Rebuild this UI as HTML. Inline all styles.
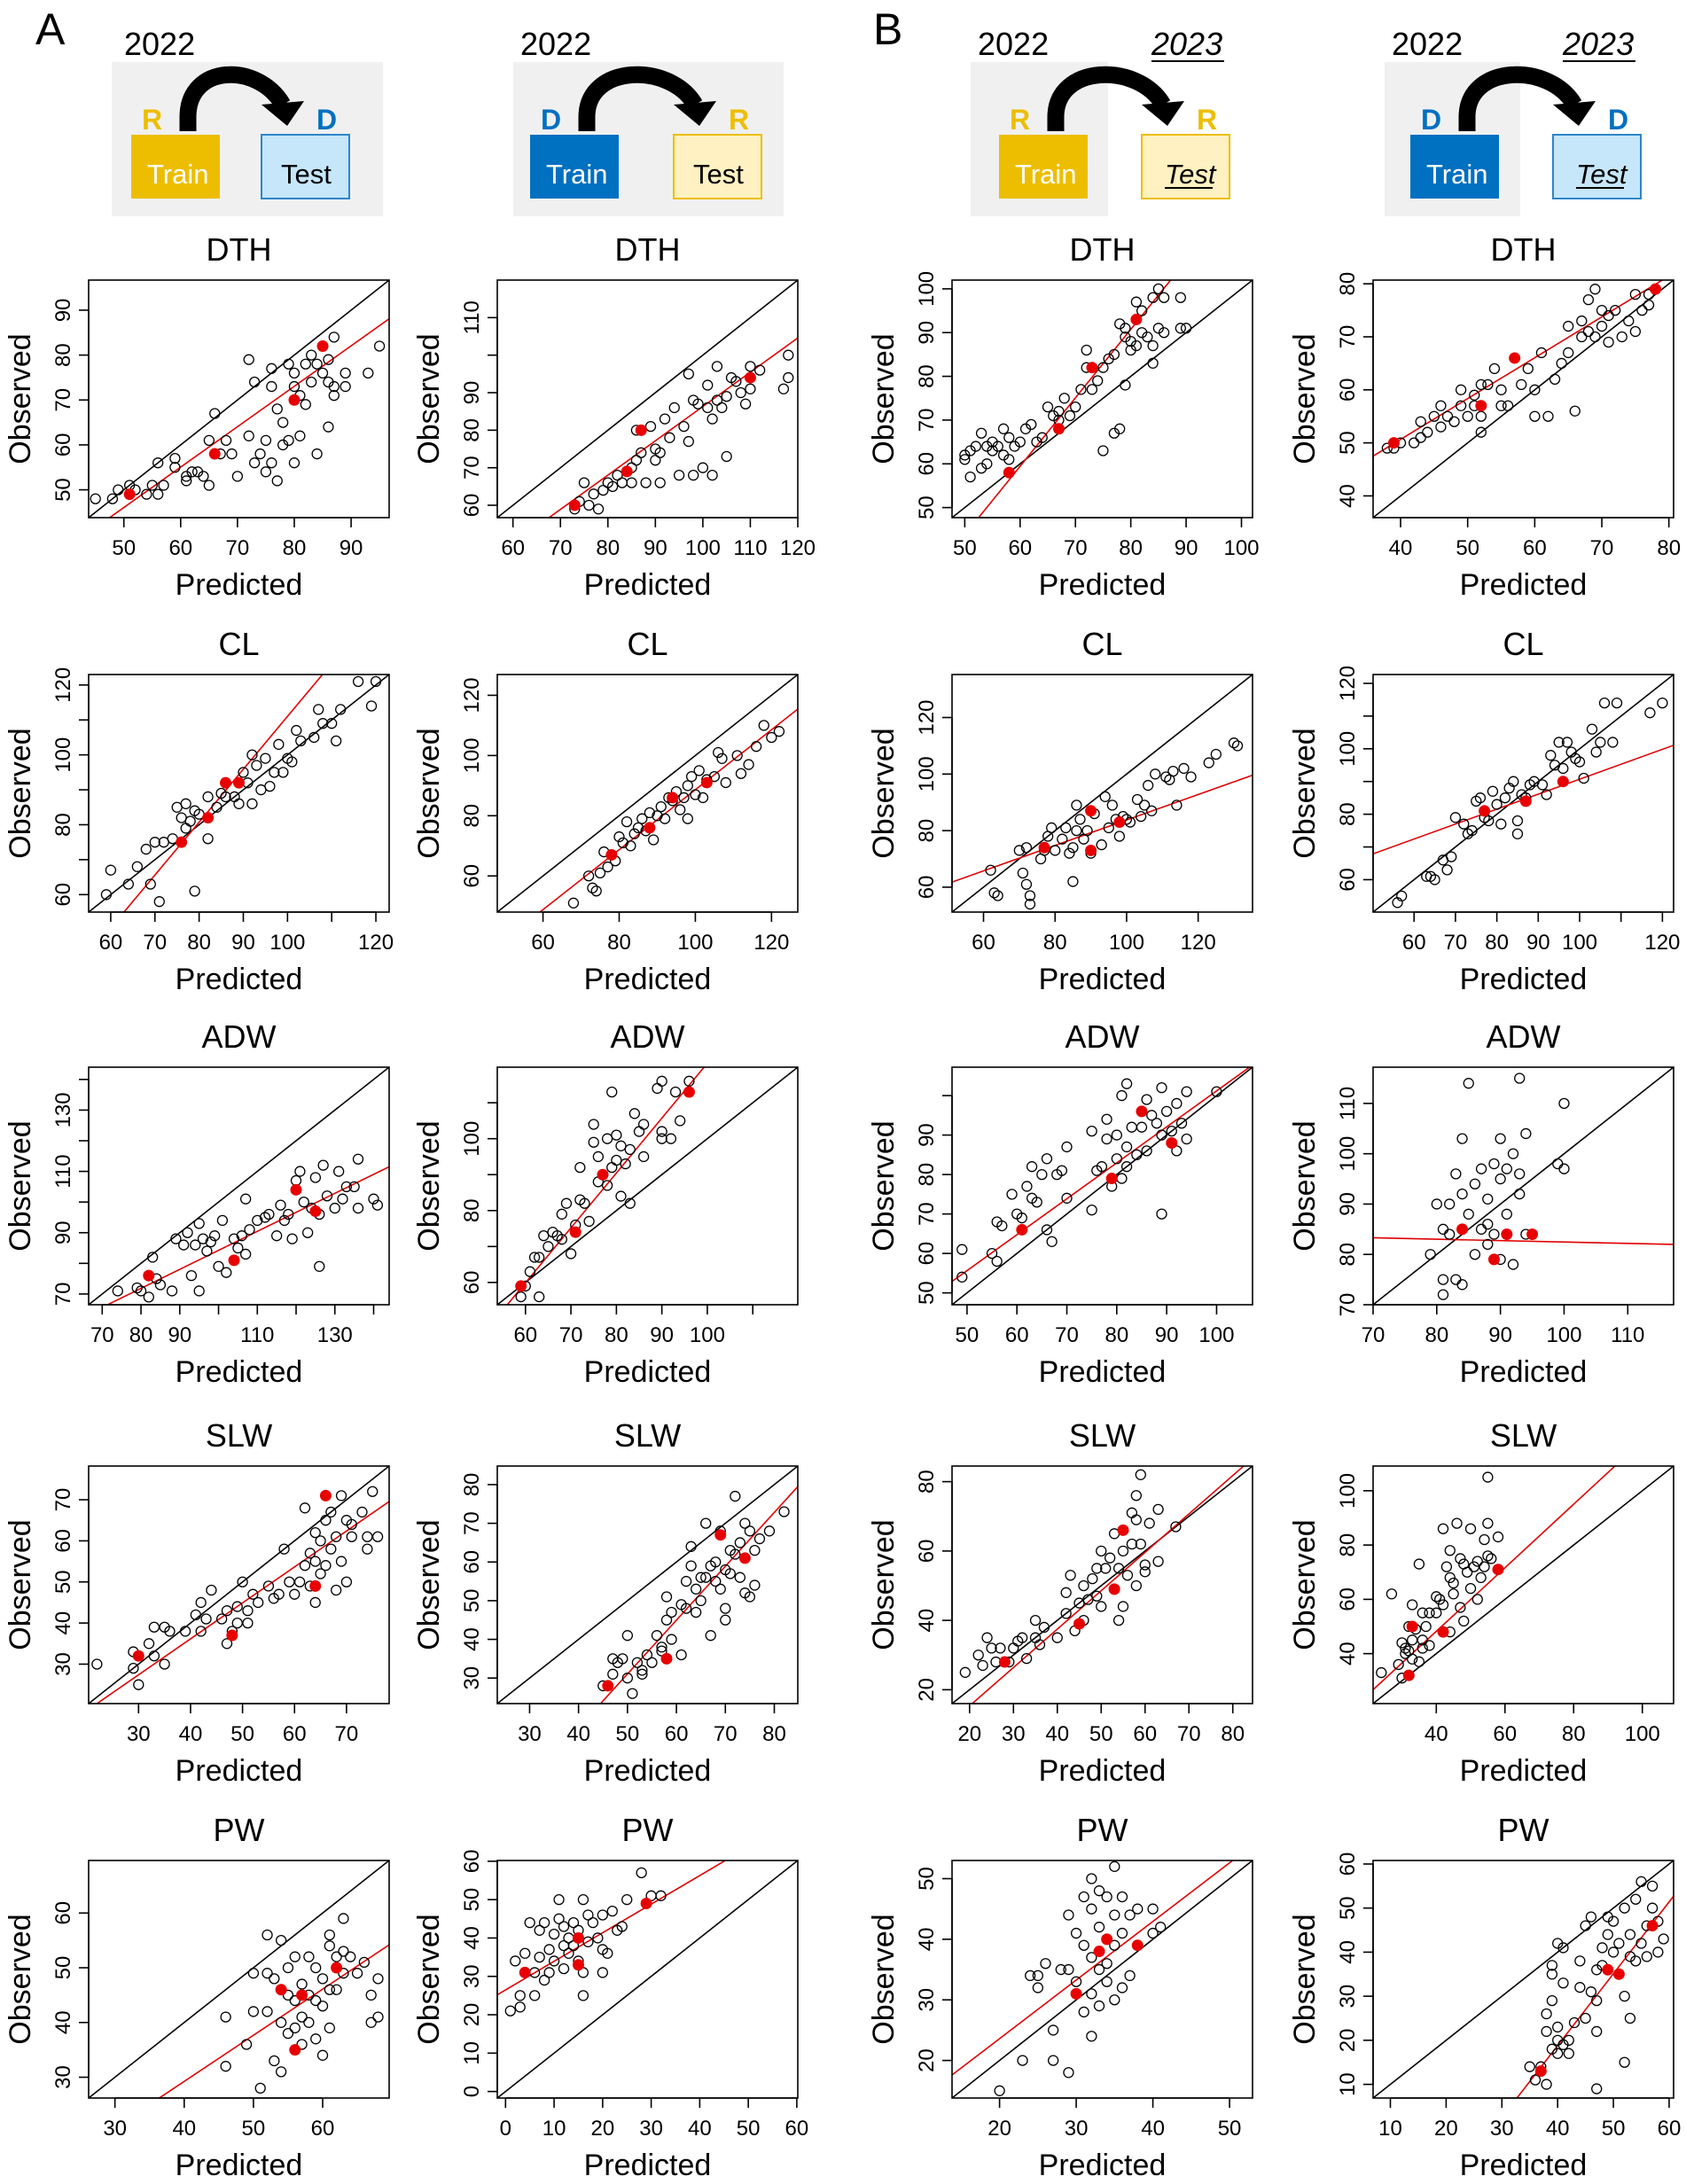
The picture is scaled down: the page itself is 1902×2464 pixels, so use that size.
<!DOCTYPE html>
<html><head><meta charset="utf-8"><style>
html,body{margin:0;padding:0;background:#fff}
svg{display:block}
text{font-family:"Liberation Sans",sans-serif}
</style></head><body>
<svg id="fig" xmlns="http://www.w3.org/2000/svg" width="1902" height="2464" viewBox="0 0 1902 2464">
<rect width="1902" height="2464" fill="#fff"/>
<text x="40" y="50" font-size="50">A</text>
<text x="985" y="50" font-size="50">B</text>
<g id="headers"></g>
<g id="plots"></g>
</svg>
<script>
// ---- data (square lims [lo,hi]; fits [x0,y0,slope]) ----
const colLeft=[100,561,1074,1549];
const rowTop=[316,761,1204,1654,2099];
const titles=["DTH","CL","ADW","SLW","PW"];

const dthA1=[45,48,48,48,49,50,51,51,52,50,54,49,55,51,56,49,56,56,57,51,59,57,59,55,61,53,61,52,62,54,63,54,64,53,65,51,65,61,66,67,67,58,68,61,69,58,70,53,72,62,72,79,73,74,73,56,74,58,75,61,75,54,76,77,76,73,76,56,77,52,77,68,78,65,78,60,79,78,79,61,80,76,80,56,80,73,81,62,81,71,82,69,82,78,83,74,83,80,84,78,84,58,85,76,86,64,86,74,86,79,87,73,87,84,87,71,89,73,89,76,93,76,95,82];
const dthA1Red=[51,49,66,58,80,70,85,82];
const dthA2=[73,59,74,61,75,66,76,60,77,63,78,59,79,64,80,66,81,65,82,68,83,66,84,69,85,70,85,66,86,72,86,80,87,74,88,66,89,81,90,72,90,75,91,74,91,66,92,83,93,78,94,86,95,68,96,81,97,95,97,77,98,68,98,88,99,87,100,70,101,86,101,92,102,68,102,83,103,88,103,97,104,86,105,89,105,73,106,94,107,93,108,90,109,87,110,97,110,91,112,96,117,91,118,94,118,100];
const dthA2Red=[73,60,84,69,87,80,110,94];
const dthB1=[50,61,50,62,51,57,51,63,52,64,53,67,53,59,54,64,54,60,55,65,55,63,56,64,57,68,57,62,58,61,58,66,59,64,60,65,61,68,62,69,63,65,64,66,65,73,66,71,67,72,67,70,68,75,69,71,70,73,71,77,72,86,72,82,73,77,74,79,75,82,75,63,76,84,77,67,77,85,78,92,78,68,79,89,79,91,79,78,80,86,80,88,81,87,81,97,82,90,82,95,83,89,84,87,84,98,84,83,85,91,85,100,86,90,86,98,89,98,89,91,90,91];
const dthB1Red=[58,58,67,68,73,82,81,93];
const dthB2=[38,49,39,49,40,50,42,50,43,51,43,54,44,52,45,55,46,53,46,57,47,55,48,54,49,57,49,60,50,55,51,59,51,57,52,61,52,55,52,52,53,61,54,64,55,60,55,57,56,57,58,61,59,64,60,55,60,60,61,67,62,55,63,62,64,65,65,72,65,67,66,56,67,70,67,73,68,77,68,71,69,70,69,79,70,72,70,75,71,69,71,74,72,75,73,70,74,73,75,71,75,78,76,75,77,78,77,76,78,79];
const dthB2Red=[39,50,52,57,57,66,78,79];

const clA1=[59,60,60,67,64,63,66,68,68,73,69,63,70,75,71,58,72,75,74,76,75,85,76,82,77,79,77,86,78,81,79,61,79,84,80,83,82,76,82,88,84,85,85,89,86,88,88,88,89,86,90,95,91,92,92,100,92,86,93,97,94,90,95,99,96,91,97,95,98,103,99,95,100,99,101,98,102,107,103,104,106,105,107,113,108,109,110,109,111,104,112,113,116,121,119,114,120,121];
const clA1Red=[76,75,82,82,86,92,89,92];
const clA2=[68,51,72,60,73,56,74,55,75,61,76,68,77,63,78,67,79,65,80,73,81,71,82,78,83,70,84,74,85,76,86,79,87,75,88,81,89,72,90,80,91,83,92,79,93,86,94,85,95,88,96,82,97,86,98,90,98,79,99,93,100,87,101,95,102,86,103,92,105,93,106,101,107,99,108,91,111,100,112,94,114,97,116,103,118,110,120,106,122,108];
const clA2Red=[78,67,88,76,94,86,103,91];
const clB1=[62,66,63,58,64,57,70,73,71,65,72,61,72,74,73,54,73,57,76,70,77,73,78,78,79,81,80,73,82,77,83,81,84,72,85,74,85,62,86,80,86,89,87,84,88,77,89,80,90,72,91,86,93,75,94,92,95,81,96,89,97,84,98,78,99,85,100,84,101,83,103,91,104,85,105,89,106,96,107,87,108,100,111,99,112,98,113,101,114,89,116,102,118,99,123,104,125,107,130,111,131,110];
const clB1Red=[77,74,90,87,90,73,98,83];
const clB2=[56,53,57,55,63,61,64,61,65,60,67,66,68,63,69,67,70,79,72,77,73,74,74,75,75,84,76,85,77,79,78,78,79,87,80,83,81,77,82,85,83,88,84,90,85,74,85,78,86,86,87,85,88,89,89,90,91,89,92,86,93,98,94,95,95,102,96,94,97,102,98,99,99,97,100,96,101,91,103,106,104,99,105,102,106,114,108,102,109,114,117,111,120,114];
const clB2Red=[77,81,87,84,96,90];

const adwA1=[74,71,79,72,80,71,82,69,83,82,84,75,85,73,88,71,89,88,91,86,92,90,93,76,94,86,95,93,95,71,96,88,97,84,98,87,99,89,100,79,101,94,102,77,104,88,105,85,106,89,107,83,107,101,108,91,110,94,112,95,113,96,115,89,116,99,117,94,118,96,119,88,120,107,121,110,122,100,123,90,124,98,125,108,126,79,126,96,127,112,128,102,130,98,131,110,132,101,133,105,135,105,136,98,136,114,140,101,141,99];
const adwA1Red=[82,76,104,81,120,104,125,97];
const adwA2=[59,56,60,59,61,63,62,67,63,56,63,67,64,73,65,70,66,74,67,73,68,72,68,79,69,82,70,68,71,76,72,92,72,83,73,82,74,77,75,99,75,104,76,95,76,88,77,90,78,87,78,100,79,92,79,113,80,94,80,101,81,84,81,98,82,93,83,97,83,82,84,107,85,102,86,104,86,95,89,114,90,100,90,102,92,100,93,113,94,105,96,116,90,116];
const adwA2Red=[59,59,71,74,77,90,96,113];
const adwB1=[49,61,49,54,55,60,56,58,56,68,57,67,59,75,60,70,61,69,62,77,63,74,63,82,64,73,65,80,66,84,66,66,67,63,68,80,69,81,70,74,70,87,75,71,75,91,76,81,77,82,78,89,78,94,79,77,80,84,80,90,81,79,81,100,82,82,82,87,82,103,83,92,84,85,85,92,85,96,86,99,86,86,87,95,88,93,89,70,89,90,89,102,90,96,91,91,92,98,92,86,93,93,94,101,94,89,100,101];
const adwB1Red=[61,66,79,79,85,96,91,88];
const adwB2=[79,80,80,90,81,75,81,72,81,85,82,84,82,90,83,75,83,96,84,74,84,103,84,92,85,114,85,88,86,80,86,94,87,85,87,97,88,91,88,86,88,82,89,98,89,84,90,95,90,79,90,103,91,88,91,97,92,100,92,78,93,96,93,92,93,115,94,104,94,84,99,98,100,97,100,110];
const adwB2Red=[84,85,89,79,91,84,95,84];

const slwA1=[22,30,29,29,29,33,30,25,32,35,33,39,33,32,35,39,35,30,36,38,39,38,41,42,42,45,42,38,43,41,44,48,46,41,47,43,47,35,48,38,49,40,49,44,50,50,51,40,51,43,52,47,53,45,55,49,56,46,57,47,58,58,59,50,60,47,61,50,62,54,62,68,63,57,63,49,64,55,64,45,64,62,65,60,65,52,66,65,66,54,67,58,67,67,68,48,68,61,69,55,69,71,70,65,70,50,71,61,71,64,73,67,74,58,74,61,75,72,76,61];
const slwA1Red=[30,32,48,37,64,49,66,71];
const slwA2=[45,28,47,35,47,31,48,34,49,35,50,30,50,41,51,26,52,34,53,32,53,31,54,36,55,34,56,41,57,37,57,38,58,45,58,51,59,47,59,40,61,49,61,36,62,55,62,48,63,64,63,59,64,47,64,53,65,56,65,50,66,70,66,56,67,59,67,41,68,60,68,55,69,53,69,68,70,48,70,45,70,58,71,63,71,57,72,77,72,62,73,56,73,65,74,70,74,52,75,68,75,51,76,54,76,63,77,66,79,68,82,73];
const slwA2Red=[46,28,58,35,69,67,74,61];
const slwB1=[19,25,22,30,23,27,24,35,25,32,26,28,27,32,29,28,30,32,31,34,32,35,33,29,35,40,35,35,36,33,37,38,40,35,42,42,42,48,43,53,44,37,45,45,46,50,46,40,47,46,48,52,49,55,49,47,50,60,50,44,51,55,52,58,53,49,53,65,54,40,54,55,55,44,55,60,56,53,57,71,57,62,58,50,58,76,58,69,59,82,59,62,60,56,60,54,61,68,63,72,63,57,67,67];
const slwB1Red=[28,28,45,39,53,49,55,66];
const slwB2=[24,33,27,62,29,36,30,31,31,40,31,42,32,50,32,41,33,45,33,58,33,38,35,73,35,37,36,55,36,45,37,50,38,43,38,55,40,61,41,60,42,86,43,72,44,68,44,78,44,48,45,62,45,66,46,88,47,57,47,75,48,73,48,52,49,70,50,64,50,86,51,72,52,60,52,74,53,68,54,72,54,82,55,88,55,76,56,75,55,105,58,83,34,49,36,42,40,55,42,58,30,44];
const slwB2Red=[32,32,33,50,42,48,58,71];

const pwA1=[46,32,46,41,49,36,50,49,50,42,51,28,52,49,52,56,52,42,53,48,53,33,54,31,54,55,54,40,55,45,55,50,55,38,56,52,56,44,56,39,57,47,57,41,57,36,58,52,58,45,58,40,59,50,59,44,59,37,60,48,60,34,60,43,61,56,61,46,61,54,61,39,62,52,62,46,63,59,63,49,63,53,64,52,65,49,66,51,67,40,67,45,68,48,68,41];
const pwA1Red=[54,46,56,35,57,45,62,50];
const pwA2=[1,21,2,34,3,22,3,25,4,36,5,44,6,31,6,25,7,35,7,42,8,29,8,44,9,37,9,31,10,41,10,34,11,50,11,45,12,38,12,43,12,32,13,40,13,36,14,44,14,38,15,42,15,34,16,25,16,50,16,31,17,39,17,46,18,44,19,40,20,37,20,31,20,46,21,36,22,47,23,42,24,43,25,50,28,57,30,51,32,51];
const pwA2Red=[4,31,15,40,15,33,29,49];
const pwB1=[20,15,23,20,24,34,25,34,25,32,26,36,27,25,27,20,28,35,29,44,29,35,29,18,30,41,30,33,31,28,31,47,31,39,32,50,32,45,32,37,32,24,32,31,33,42,33,48,33,35,33,29,34,47,34,40,34,36,34,33,35,52,35,44,35,39,35,30,36,47,36,41,36,32,37,44,37,34,38,45,40,41,40,45,41,42];
const pwB1Red=[30,31,33,38,34,40,38,39];
const pwB2=[35,14,36,11,37,14,38,10,38,22,38,26,39,18,39,35,39,37,39,29,40,20,40,23,40,42,40,17,41,19,41,41,41,33,42,17,42,20,43,24,44,32,44,38,45,25,45,46,46,31,46,48,47,22,47,29,47,36,47,9,48,41,48,37,49,48,49,44,50,40,50,47,51,35,51,42,52,30,52,15,52,50,53,44,53,25,53,39,54,52,54,38,55,56,55,42,56,46,57,55,57,50,58,40,58,47,59,43,56,39];
const pwB2Red=[37,13,49,36,51,35,57,46];

const lims=[[43.8,96.7],[56.7,120],[47.7,102],[35.9,80.7],
 [55,123],[48,126.9],[51.2,135.2],[50.1,122.7],
 [66.5,144],[53.8,119.9],[47,107.2],[70,117.2],
 [20.4,78.2],[23.4,84.8],[16,84.5],[21.6,109.1],
 [26.2,69.6],[-1.7,60.2],[13.8,53],[6.9,60.8]];
const fits=[[47.5,43.8,0.9],[67.6,56.7,0.914],[52.5,47.7,1.565],[35.9,47.5,0.77],
 [63,55,1.514],[59.2,48,0.996],[51.2,61.8,0.45],[50.1,67.9,0.457],
 [71.4,66.5,0.62],[56,53.8,1.527],[47,52.9,0.911],[70,83.3,-0.028],
 [22,20.4,0.875],[44.5,23.4,1.392],[20.6,16,1.107],[21.6,26.7,1.17],
 [36.4,26.2,0.843],[-1.7,25.2,0.745],[13.8,17.6,0.967],[32.7,6.9,1.63]];
const xTicks=[[50,60,70,80,90],[60,70,80,90,100,110,120],[50,60,70,80,90,100],[40,50,60,70,80],
 [60,70,80,90,100,110,120],[60,80,100,120],[60,80,100,120],[60,70,80,90,100,110,120],
 [70,80,90,100,110,120,130,140],[60,70,80,90,100,110],[50,60,70,80,90,100],[70,80,90,100,110],
 [30,40,50,60,70],[30,40,50,60,70,80],[20,30,40,50,60,70,80],[40,60,80,100],
 [30,40,50,60],[0,10,20,30,40,50,60],[20,30,40,50],[10,20,30,40,50,60]];
const xHidden=[[],[],[],[],[110],[],[],[110],[100,120,140],[110],[],[],[],[],[],[],[],[],[],[]];
const yTicks=[[50,60,70,80,90],[60,70,80,90,100,110],[50,60,70,80,90,100],[40,50,60,70,80],
 [60,70,80,90,100,110,120],[60,80,100,120],[60,80,100,120],[60,70,80,90,100,110,120],
 [70,80,90,100,110,120,130,140],[60,70,80,90,100,110],[50,60,70,80,90,100],[70,80,90,100,110],
 [30,40,50,60,70],[30,40,50,60,70,80],[20,40,60,80],[40,60,80,100],
 [30,40,50,60],[0,10,20,30,40,50,60],[20,30,40,50],[10,20,30,40,50,60]];
const yHidden=[[],[100],[],[],[70,90,110],[],[],[70,90,110],[80,100,120,140],[70,90,110],[100],[],[],[],[],[],[],[],[],[]];
const series=[dthA1,dthA2,dthB1,dthB2,clA1,clA2,clB1,clB2,adwA1,adwA2,adwB1,adwB2,slwA1,slwA2,slwB1,slwB2,pwA1,pwA2,pwB1,pwB2];
const seriesRed=[dthA1Red,dthA2Red,dthB1Red,dthB2Red,clA1Red,clA2Red,clB1Red,clB2Red,adwA1Red,adwA2Red,adwB1Red,adwB2Red,slwA1Red,slwA2Red,slwB1Red,slwB2Red,pwA1Red,pwA2Red,pwB1Red,pwB2Red];

const NS="http://www.w3.org/2000/svg";
const W=339,H=268;
function mk(tag,attrs,parent){const e=document.createElementNS(NS,tag);for(const k in attrs)e.setAttribute(k,attrs[k]);if(parent)parent.appendChild(e);return e;}

// ---- headers ----
const hdr=document.getElementById('headers');
const headerDefs=[
 {grey:[126,306],tl:148,el:295,lab:"R",rlab:"D",trainC:"#EDBE00",testF:"#C6E6FA",testS:"#2E86C8",y22:140,y23:null},
 {grey:[579,305],tl:598,el:760,lab:"D",rlab:"R",trainC:"#0070C0",testF:"#FFF1C1",testS:"#EDBE00",y22:587,y23:null},
 {grey:[1095,155],tl:1127,el:1288,lab:"R",rlab:"R",trainC:"#EDBE00",testF:"#FFF1C1",testS:"#EDBE00",y22:1103,y23:1299},
 {grey:[1562,153],tl:1591,el:1752,lab:"D",rlab:"D",trainC:"#0070C0",testF:"#C6E6FA",testS:"#2E86C8",y22:1570,y23:1763}];
headerDefs.forEach((h,i)=>{
  const g=mk('g',{},hdr);
  
  
  mk('rect',{x:h.grey[0],y:70,width:h.grey[1],height:174,fill:'#F0F0F0'},g);
  const t22=mk('text',{x:h.y22,y:62,'font-size':36},g);t22.textContent='2022';
  
  if(h.y23){const t=mk('text',{x:h.y23,y:62,'font-size':36,'font-style':'italic'},g);t.textContent='2023';
    
    mk('line',{x1:h.y23,x2:h.y23+82,y1:69,y2:69,stroke:'#000','stroke-width':2},g);}
  const tr=mk('rect',{x:h.tl,y:152,width:100,height:72,fill:h.trainC},g);
  
  const tt=mk('text',{x:h.tl+18,y:207,'font-size':31,fill:'#fff'},g);tt.textContent='Train';
  const te=mk('rect',{x:h.el,y:152,width:99,height:72,fill:h.testF,stroke:h.testS,'stroke-width':2},g);
  
  const ts=mk('text',{x:h.el+(h.y23?26:22),y:207,'font-size':31,fill:'#000'},g);ts.textContent='Test';
  if(h.y23){ts.setAttribute('font-style','italic');mk('line',{x1:h.el+26,x2:h.el+80,y1:212,y2:212,stroke:'#000','stroke-width':2},g);}
  const lc=c=>c==='R'?'#EDBE00':'#0070C0';
  const l1=mk('text',{x:h.tl+12,y:146,'font-size':32,'font-weight':'bold',fill:lc(h.lab)},g);l1.textContent=h.lab;
  const l2=mk('text',{x:h.el+62,y:146,'font-size':32,'font-weight':'bold',fill:lc(h.rlab)},g);l2.textContent=h.rlab;
  const sx=h.tl+64, ex=h.el+26;
  mk('path',{d:`M${sx},148 L${sx},132 C${sx},72 ${ex-30},70 ${ex-2},118`,fill:'none',stroke:'#000','stroke-width':19},g);
  const ar=mk('path',{d:`M${ex-26},118 L${ex+22},114 L${ex+3},142 Z`,fill:'#000'},g);
  
});

// ---- plots ----
const plots=document.getElementById('plots');
for(let p=0;p<20;p++){
  const ri=Math.floor(p/4), ci=p%4;
  const L=colLeft[ci], T=rowTop[ri], lo=lims[p][0], hi=lims[p][1];
  const sx=v=>L+(v-lo)/(hi-lo)*W, sy=v=>T+H-(v-lo)/(hi-lo)*H;
  const g=mk('g',{},plots);
  
  
  const tt=mk('text',{x:L+W/2,y:T-22,'font-size':36,'text-anchor':'middle'},g);tt.textContent=titles[ri];
  
  const xl=mk('text',{x:L+W/2,y:T+H+87,'font-size':34,'text-anchor':'middle'},g);xl.textContent='Predicted';
  
  const yl=mk('text',{x:0,y:0,'font-size':34,'text-anchor':'middle',transform:`translate(${L-66},${T+H/2}) rotate(-90)`},g);yl.textContent='Observed';
  
  const cid='clip'+p;
  const cp=mk('clipPath',{id:cid},g);mk('rect',{x:L,y:T,width:W,height:H},cp);
  const pg=mk('g',{'clip-path':`url(#${cid})`},g);
  const diag=mk('line',{x1:L,y1:T+H,x2:L+W,y2:T,stroke:'#000','stroke-width':1.6},pg);
  
  const f=fits[p];const fy=x=>f[1]+f[2]*(x-f[0]);
  const rl=mk('line',{x1:sx(lo),y1:sy(fy(lo)),x2:sx(hi),y2:sy(fy(hi)),stroke:'#E00000','stroke-width':1.6},pg);
  
  const d=series[p];
  for(let i=0;i<d.length;i+=2){
    const c=mk('circle',{cx:sx(d[i]),cy:sy(d[i+1]),r:5.5,fill:'none',stroke:'#000','stroke-width':1.3},pg);
    
    
  }
  const r=seriesRed[p];
  for(let i=0;i<r.length;i+=2){
    const c=mk('circle',{cx:sx(r[i]),cy:sy(r[i+1]),r:6.5,fill:'#E80000'},pg);
    
    
  }
  mk('rect',{x:L,y:T,width:W,height:H,fill:'none',stroke:'#000','stroke-width':1.6},g);
  const xt=xTicks[p];
  mk('line',{x1:sx(xt[0]),x2:sx(xt[xt.length-1]),y1:T+H,y2:T+H,stroke:'#000','stroke-width':1.6},g);
  xt.forEach(v=>{
    mk('line',{x1:sx(v),x2:sx(v),y1:T+H,y2:T+H+11,stroke:'#000','stroke-width':1.6},g);
    if(xHidden[p].indexOf(v)<0){const t=mk('text',{x:sx(v),y:T+H+42,'font-size':24,'text-anchor':'middle'},g);t.textContent=v;
      }
  });
  const yt=yTicks[p];
  mk('line',{x1:L,x2:L,y1:sy(yt[0]),y2:sy(yt[yt.length-1]),stroke:'#000','stroke-width':1.6},g);
  yt.forEach(v=>{
    mk('line',{x1:L-11,x2:L,y1:sy(v),y2:sy(v),stroke:'#000','stroke-width':1.6},g);
    if(yHidden[p].indexOf(v)<0){const t=mk('text',{x:0,y:0,'font-size':24,'text-anchor':'middle',transform:`translate(${L-21},${sy(v)}) rotate(-90)`},g);t.textContent=v;
      }
  });
}
</script>
</body></html>
